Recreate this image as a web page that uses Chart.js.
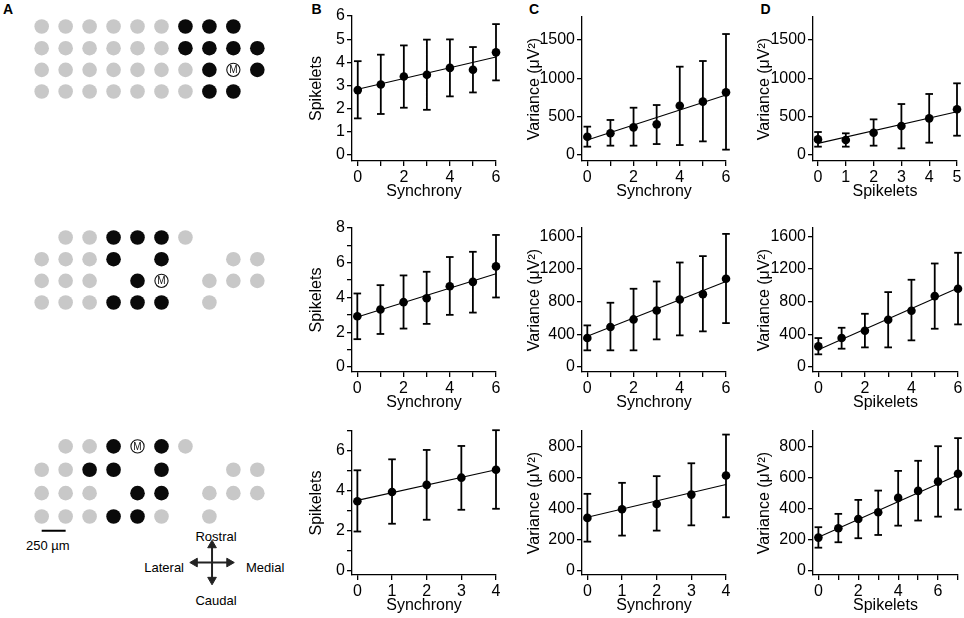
<!DOCTYPE html>
<html lang="en">
<head>
<meta charset="UTF-8">
<title>Coupled cells, spikelets and variance vs synchrony</title>
<script src="https://cdn.jsdelivr.net/npm/chart.js"></script>
<style>
  body { margin: 0; background: #fff; font-family: "Liberation Sans", Arial, Helvetica, sans-serif; }
  #fig { position: relative; width: 964px; height: 618px; overflow: hidden; }
  #fig canvas, .lbl { position: absolute; }
  .lbl { color: #000; font-size: 13px; line-height: 1; white-space: nowrap; }
  .letter { font-size: 14px; font-weight: bold; }
</style>
</head>
<body>
<div id="fig">
  <div class="lbl letter" style="left:3px;top:1.5px">A</div>
  <div class="lbl letter" style="left:311.5px;top:1.5px">B</div>
  <div class="lbl letter" style="left:529px;top:1.5px">C</div>
  <div class="lbl letter" style="left:760.5px;top:1.5px">D</div>
  <div class="lbl" style="left:26px;top:538.7px">250 µm</div>
  <div class="lbl" style="left:216px;top:529.7px;transform:translateX(-50%)">Rostral</div>
  <div class="lbl" style="left:216px;top:594.4px;transform:translateX(-50%)">Caudal</div>
  <div class="lbl" style="left:184px;top:560.7px;transform:translateX(-100%)">Lateral</div>
  <div class="lbl" style="left:246px;top:560.7px">Medial</div>
</div>

<script>
  // electrode maps: g = not coupled, b = coupled, M = recorded cell, . = no electrode
  const mapTop = ["ggggggbbb.", "ggggggbbbb", "gggggggbMb", "gggggggbb."];
  const mapMid = [".ggbbbg...", "gggb.b..gg", "ggg.bM.ggg", "gggbbb.g.."];
  const mapBot = [".ggbMbg...", "ggbb.b..gg", "ggg.bb.ggg", "gggbbg.g.."];

  // ---- row 1 ----
  const sync1 = [0, 1, 2, 3, 4, 5, 6];
  const spk1 = [2.80, 3.04, 3.39, 3.46, 3.76, 3.68, 4.43];
  const spk1Hi = [4.05, 4.33, 4.73, 4.98, 4.99, 4.66, 5.65];
  const spk1Lo = [1.58, 1.77, 2.04, 1.95, 2.53, 2.70, 3.22];
  const spkFit1 = [2.84, 4.23];
  const var1 = [239, 283, 361, 400, 643, 696, 817];
  const var1Hi = [370, 457, 617, 652, 1152, 1226, 1578];
  const var1Lo = [109, 122, 122, 143, 130, 178, 70];
  const varFit1 = [196, 783];
  const spkCount1 = [0, 1, 2, 3, 4, 5];
  const varS1 = [204, 196, 291, 378, 478, 596];
  const varS1Hi = [300, 283, 465, 665, 796, 935];
  const varS1Lo = [109, 109, 122, 87, 161, 252];
  const varSFit1 = [152, 565];

  // ---- row 2 ----
  const sync2 = [0, 1, 2, 3, 4, 5, 6];
  const spk2 = [2.92, 3.31, 3.73, 3.96, 4.65, 4.90, 5.79];
  const spk2Hi = [4.23, 4.71, 5.27, 5.48, 6.33, 6.63, 7.60];
  const spk2Lo = [1.60, 1.90, 2.21, 2.48, 3.00, 3.13, 4.00];
  const spkFit2 = [2.88, 5.37];
  const var2 = [354, 489, 582, 692, 826, 891, 1079];
  const var2Hi = [509, 786, 957, 1046, 1278, 1356, 1628];
  const var2Lo = [204, 204, 204, 338, 387, 436, 537];
  const varFit2 = [375, 1046];
  const spkCount2 = [0, 1, 2, 3, 4, 5, 6];
  const varS2 = [252, 354, 444, 578, 688, 867, 957];
  const varS2Hi = [354, 480, 651, 916, 1067, 1266, 1397];
  const varS2Lo = [155, 224, 240, 240, 326, 468, 521];
  const varSFit2 = [212, 965];

  // ---- row 3 ----
  const sync3 = [0, 1, 2, 3, 4];
  const spk3 = [3.48, 3.94, 4.30, 4.66, 5.06];
  const spk3Hi = [5.03, 5.58, 6.05, 6.25, 7.04];
  const spk3Lo = [1.96, 2.35, 2.55, 3.05, 3.10];
  const spkFit3 = [3.52, 5.06];
  const var3 = [340, 396, 430, 490, 613];
  const var3Hi = [495, 566, 609, 692, 877];
  const var3Lo = [187, 226, 258, 292, 344];
  const varFit3 = [344, 555];
  const spkCount3 = [0, 1, 2, 3, 4, 5, 6, 7];
  const varS3 = [213, 273, 333, 376, 469, 514, 574, 624];
  const varS3Hi = [280, 366, 456, 516, 643, 708, 802, 854];
  const varS3Lo = [148, 183, 209, 230, 290, 323, 348, 394];
  const varSFit3 = [215, 617];

  // tick values / labelled ticks
  const int0to4 = [0, 1, 2, 3, 4];
  const int0to5 = [0, 1, 2, 3, 4, 5];
  const int0to6 = [0, 1, 2, 3, 4, 5, 6];
  const int0to7 = [0, 1, 2, 3, 4, 5, 6, 7];
  const int0to8 = [0, 1, 2, 3, 4, 5, 6, 7, 8];
  const even0to6 = [0, 2, 4, 6];
  const even0to8 = [0, 2, 4, 6, 8];
  const var500 = [0, 500, 1000, 1500];
  const var400 = [0, 400, 800, 1200, 1600];
  const var200 = [0, 200, 400, 600, 800];

  const scaleBarUm = 250, electrodePitchUm = 250;

  Chart.defaults.font.family = '"Liberation Sans", Arial, Helvetica, sans-serif';
  Chart.defaults.color = '#000';

  const fig = document.getElementById('fig');
  function addCanvas(left, top, w, h) {
    const c = document.createElement('canvas');
    c.width = Math.round(w); c.height = Math.round(h);
    c.style.left = left + 'px'; c.style.top = top + 'px';
    fig.appendChild(c);
    return c;
  }

  function axis(range, tickVals, labelVals, title, fitW, fitH) {
    return {
      type: 'linear', min: range[0], max: range[1],
      afterBuildTicks: a => { a.ticks = tickVals.map(v => ({ value: v })); },
      afterFit: a => { if (fitW) a.width = fitW; if (fitH) a.height = fitH; },
      ticks: {
        color: '#000', font: { size: 16 }, padding: 2, autoSkip: false, maxRotation: 0,
        callback: v => labelVals.includes(v) ? String(v) : ''
      },
      grid: { drawOnChartArea: false, drawTicks: true, tickLength: 5, color: '#000', lineWidth: 1.3 },
      border: { display: true, color: '#000', width: 1.3 },
      title: { display: true, text: title, color: '#000', font: { size: 16 }, padding: 0 }
    };
  }

  const panels = [
    { x: sync1, m: spk1, lo: spk1Lo, hi: spk1Hi, fit: spkFit1, xT: 'Synchrony', yT: 'Spikelets',
      xr: [-0.25, 6], yr: [-0.26, 6], xt: int0to6, xl: even0to6, yt: int0to6, yl: int0to6,
      box: [352.3, 16, 496.7, 161], yW: 45 },
    { x: sync1, m: var1, lo: var1Lo, hi: var1Hi, fit: varFit1, xT: 'Synchrony', yT: 'Variance (μV²)',
      xr: [-0.23, 6], yr: [-78, 1800], xt: int0to6, xl: even0to6, yt: var500, yl: var500,
      box: [582.3, 17, 726.7, 161], yW: 57 },
    { x: spkCount1, m: varS1, lo: varS1Lo, hi: varS1Hi, fit: varSFit1, xT: 'Spikelets', yT: 'Variance (μV²)',
      xr: [-0.18, 5], yr: [-78, 1800], xt: int0to5, xl: int0to5, yt: var500, yl: var500,
      box: [813.3, 17, 957.3, 161], yW: 58 },

    { x: sync2, m: spk2, lo: spk2Lo, hi: spk2Hi, fit: spkFit2, xT: 'Synchrony', yT: 'Spikelets',
      xr: [-0.23, 6], yr: [-0.29, 8], xt: int0to6, xl: even0to6, yt: int0to8, yl: even0to8,
      box: [352.3, 227.7, 496.7, 371.7], yW: 45 },
    { x: sync2, m: var2, lo: var2Lo, hi: var2Hi, fit: varFit2, xT: 'Synchrony', yT: 'Variance (μV²)',
      xr: [-0.23, 6], yr: [-61, 1700], xt: int0to6, xl: even0to6, yt: var400, yl: var400,
      box: [582.3, 227.5, 726.7, 371.7], yW: 57 },
    { x: spkCount2, m: varS2, lo: varS2Lo, hi: varS2Hi, fit: varSFit2, xT: 'Spikelets', yT: 'Variance (μV²)',
      xr: [-0.23, 6], yr: [-61, 1700], xt: int0to6, xl: even0to6, yt: var400, yl: var400,
      box: [813.3, 227.5, 958.3, 371.7], yW: 58 },

    { x: sync3, m: spk3, lo: spk3Lo, hi: spk3Hi, fit: spkFit3, xT: 'Synchrony', yT: 'Spikelets',
      xr: [-0.155, 4], yr: [-0.22, 7], xt: int0to4, xl: int0to4, yt: int0to7, yl: even0to6,
      box: [352.3, 430.7, 496.7, 574.3], yW: 45 },
    { x: sync3, m: var3, lo: var3Lo, hi: var3Hi, fit: varFit3, xT: 'Synchrony', yT: 'Variance (μV²)',
      xr: [-0.155, 4], yr: [-28, 900], xt: int0to4, xl: int0to4, yt: var200, yl: var200,
      box: [582.3, 430.5, 726.7, 574.3], yW: 57 },
    { x: spkCount3, m: varS3, lo: varS3Lo, hi: varS3Hi, fit: varSFit3, xT: 'Spikelets', yT: 'Variance (μV²)',
      xr: [-0.27, 7], yr: [-28, 900], xt: int0to7, xl: even0to6, yt: var200, yl: var200,
      box: [813.3, 430.5, 958.3, 574.3], yW: 58 }
  ];

  const padT = 12, padR = 10, xH = 40;

  panels.forEach(p => {
    const [l, t, r, b] = p.box;
    const cv = addCanvas(l - p.yW, t - padT, p.yW + (r - l) + padR, padT + (b - t) + xH);

    const bars = [];
    p.x.forEach((x, i) => { bars.push({ x, y: p.lo[i] }, { x, y: p.hi[i] }, { x, y: null }); });

    new Chart(cv, {
      type: 'scatter',
      data: {
        datasets: [
          { data: p.x.map((x, i) => ({ x, y: p.m[i] })), pointRadius: 4.3, pointBackgroundColor: '#000',
            pointBorderWidth: 0, clip: false },
          { data: bars, showLine: true, spanGaps: false, borderColor: '#000', borderWidth: 1.8,
            pointStyle: 'line', pointRadius: 3.8, pointBorderColor: '#000', pointBorderWidth: 1.8, clip: false },
          { data: [{ x: p.x[0], y: p.fit[0] }, { x: p.x[p.x.length - 1], y: p.fit[1] }], showLine: true,
            borderColor: '#000', borderWidth: 1.1, pointRadius: 0, clip: false }
        ]
      },
      options: {
        responsive: false, animation: false, events: [],
        layout: { padding: { top: padT, right: padR, left: 0, bottom: 0 } },
        plugins: { legend: { display: false }, tooltip: { enabled: false } },
        scales: {
          x: axis(p.xr, p.xt, p.xl, p.xT, 0, xH),
          y: axis(p.yr, p.yt, p.yl, p.yT, p.yW, 0)
        }
      }
    });
  });

  // ---- panel A: electrode maps ----
  const mLabel = {
    id: 'mLabel',
    afterDatasetsDraw(chart) {
      const ctx = chart.ctx;
      chart.data.datasets.forEach((ds, i) => {
        if (!ds.recorded) return;
        chart.getDatasetMeta(i).data.forEach(pt => {
          ctx.save();
          ctx.fillStyle = '#111';
          ctx.font = '10px "Liberation Sans", Arial, sans-serif';
          ctx.textAlign = 'center';
          ctx.textBaseline = 'middle';
          ctx.fillText('M', pt.x, pt.y + 0.5);
          ctx.restore();
        });
      });
    }
  };

  const pitch = 25.5;
  function mapChart(map, left, top, rows, extra) {
    const cv = addCanvas(left, top, 10 * pitch, rows * pitch);
    const pts = { g: [], b: [], M: [] };
    map.forEach((row, r) => [...row].forEach((ch, c) => { if (pts[ch]) pts[ch].push({ x: c, y: r }); }));
    const datasets = [
      { data: pts.M, pointRadius: 6.6, pointBackgroundColor: '#fff', pointBorderColor: '#111',
        pointBorderWidth: 1.1, recorded: true },
      { data: pts.b, pointRadius: 7.3, pointBackgroundColor: '#0a0a0a', pointBorderWidth: 0 },
      { data: pts.g, pointRadius: 7.3, pointBackgroundColor: '#c8c8c8', pointBorderWidth: 0 }
    ].concat(extra || []);
    new Chart(cv, {
      type: 'scatter',
      data: { datasets },
      options: {
        responsive: false, animation: false, events: [],
        layout: { padding: 0 },
        plugins: { legend: { display: false }, tooltip: { enabled: false } },
        scales: {
          x: { type: 'linear', min: -0.5, max: 9.5, display: false },
          y: { type: 'linear', min: -0.5, max: rows - 0.5, reverse: true, display: false }
        }
      },
      plugins: [mLabel]
    });
  }

  mapChart(mapTop, 34.7 - pitch / 2, 20.7 - pitch / 2, 4);
  mapChart(mapMid, 34.7 - pitch / 2, 231.7 - pitch / 2, 4);

  // scale bar and compass live in the bottom map's electrode coordinates
  const barRow = 3.61;
  const compass = { x: 7.11, y: 4.97, armX: 0.72, armY: 0.74 };
  const arrow = { showLine: true, borderColor: '#222', borderWidth: 2, pointStyle: 'triangle', pointRadius: 5,
                  pointBackgroundColor: '#222', pointBorderColor: '#222', pointBorderWidth: 1 };
  mapChart(mapBot, 34.7 - pitch / 2, 440 - pitch / 2, 7, [
    { data: [{ x: 0, y: barRow }, { x: scaleBarUm / electrodePitchUm, y: barRow }], showLine: true,
      borderColor: '#000', borderWidth: 2, pointRadius: 0 },
    Object.assign({ data: [{ x: compass.x - compass.armX, y: compass.y }, { x: compass.x + compass.armX, y: compass.y }],
                    pointRotation: [-90, 90] }, arrow),
    Object.assign({ data: [{ x: compass.x, y: compass.y - compass.armY }, { x: compass.x, y: compass.y + compass.armY }],
                    pointRotation: [0, 180] }, arrow)
  ]);
</script>
</body>
</html>
